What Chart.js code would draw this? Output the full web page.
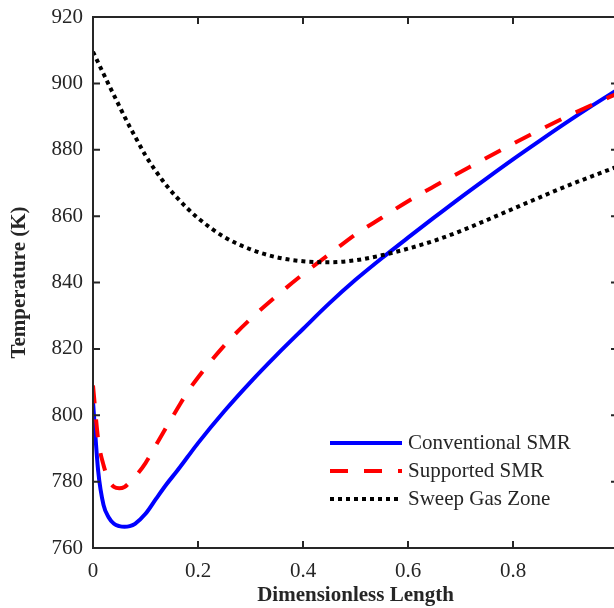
<!DOCTYPE html>
<html><head><meta charset="utf-8">
<script src="https://cdn.jsdelivr.net/npm/chart.js@4/dist/chart.umd.min.js"></script>
<style>
html,body{margin:0;padding:0;background:#fff;overflow:hidden;}
#wrap{width:614px;height:608px;overflow:hidden;position:relative;background:#fff;}
canvas{display:block;}
</style></head><body>
<div id="wrap"><canvas id="c" width="640" height="608" style="width:640px;height:608px"></canvas></div>
<script>
const xValues        = [0, 0.01, 0.02, 0.03, 0.04, 0.05, 0.06, 0.07, 0.08, 0.1, 0.12, 0.14, 0.16, 0.18, 0.2, 0.25, 0.3, 0.35, 0.4, 0.45, 0.5, 0.55, 0.6, 0.65, 0.7, 0.75, 0.8, 0.85, 0.9, 0.95, 1.0];
const conventionalSMR = [804, 783, 773, 769.2, 767.3, 766.6, 766.4, 766.6, 767.3, 770.3, 774.8, 779.2, 783.2, 787.4, 791.6, 801.2, 810, 818.2, 826, 833.7, 840.8, 847.3, 853.5, 859.6, 865.6, 871.4, 877.1, 882.6, 888, 893.2, 898.2];
const supportedSMR    = [809, 792.5, 785, 780.5, 778.4, 778, 778.4, 779.8, 781.4, 785.6, 791, 796.5, 801.8, 807, 811.4, 821, 829, 836, 842.5, 848.5, 854.5, 859.5, 864.5, 869, 873.3, 877.6, 881.8, 885.9, 889.8, 893.5, 897];
const sweepGasZone    = [909.5, 906.2, 902.9, 899.6, 896.4, 893.2, 890, 886.9, 884, 878.3, 873.5, 869.2, 865.6, 862.3, 859.4, 853.7, 850, 847.6, 846.4, 846.1, 846.7, 848.2, 850.2, 852.6, 855.5, 858.8, 862.2, 865.6, 868.9, 872, 875];
const xTicks = [0, 0.2, 0.4, 0.6, 0.8, 1];
const yTicks = [760, 780, 800, 820, 840, 860, 880, 900, 920];
const seriesLabels = ['Conventional SMR', 'Supported SMR', 'Sweep Gas Zone'];
const xTitle = 'Dimensionless Length';
const yTitle = 'Temperature (K)';

const TXT = '#262626';
const FONT = 'Liberation Serif, Times New Roman, serif';

function pts(arr){ return xValues.map((x,i)=>({x:x, y:arr[i]})); }

const styles = [
  {borderColor:'#0000ff', borderWidth:4, borderDash:[], order:3},
  {borderColor:'#ff0000', borderWidth:4, borderDash:[18,16], order:2},
  {borderColor:'#000000', borderWidth:4, borderDash:[4,4], order:1}
];
const seriesData = [conventionalSMR, supportedSMR, sweepGasZone];

const datasets = seriesData.map((d,i)=>({
  label: seriesLabels[i],
  data: pts(d),
  borderColor: styles[i].borderColor,
  borderWidth: styles[i].borderWidth,
  borderDash: styles[i].borderDash,
  borderCapStyle: 'butt',
  pointRadius: 0,
  fill: false,
  cubicInterpolationMode: 'monotone',
  order: styles[i].order
}));

const framePlugin = {
  id: 'frame',
  afterDatasetsDraw(chart){
    const {ctx, chartArea:a, scales:{x, y}} = chart;
    ctx.save();
    ctx.strokeStyle = TXT; ctx.lineWidth = 2; ctx.setLineDash([]);
    ctx.strokeRect(a.left, a.top, a.right - a.left, a.bottom - a.top);
    const L = 7;
    ctx.beginPath();
    xTicks.forEach(v=>{ const p = x.getPixelForValue(v);
      ctx.moveTo(p, a.bottom); ctx.lineTo(p, a.bottom - L);
      ctx.moveTo(p, a.top); ctx.lineTo(p, a.top + L); });
    yTicks.forEach(v=>{ const p = y.getPixelForValue(v);
      ctx.moveTo(a.left, p); ctx.lineTo(a.left + L, p);
      ctx.moveTo(a.right, p); ctx.lineTo(a.right - L, p); });
    ctx.stroke();
    // legend
    const lx0 = 330, lx1 = 402, tx = 408, rows = [443, 471, 499];
    chart.data.datasets.forEach((ds, i)=>{
      const yy = rows[i];
      ctx.beginPath();
      ctx.strokeStyle = ds.borderColor; ctx.lineWidth = ds.borderWidth;
      ctx.lineCap = 'butt';
      ctx.setLineDash(ds.borderDash || []);
      ctx.moveTo(lx0, yy); ctx.lineTo(lx1, yy); ctx.stroke();
      ctx.setLineDash([]);
      ctx.fillStyle = TXT; ctx.font = '21px ' + FONT;
      ctx.textBaseline = 'middle'; ctx.textAlign = 'left';
      ctx.fillText(ds.label, tx, yy);
    });
    ctx.restore();
  }
};

const chart = new Chart(document.getElementById('c'), {
  type: 'line',
  data: { datasets },
  plugins: [framePlugin],
  options: {
    responsive: false,
    animation: false,
    devicePixelRatio: 1,
    layout: { padding: { top: 17, right: 22, left: 0, bottom: 0 } },
    plugins: { legend: { display: false }, tooltip: { enabled: false } },
    scales: {
      x: {
        type: 'linear', min: 0, max: 1,
        afterBuildTicks: s => { s.ticks = xTicks.map(v=>({value:v})); },
        afterFit: s => { s.height = 60; s.paddingLeft = 0; s.paddingRight = 0; },
        grid: { display: false, drawTicks: false },
        border: { display: false },
        ticks: { color: TXT, font: { family: FONT, size: 21 }, padding: 11, maxRotation: 0,
                 callback: v => String(v) },
        title: { display: true, text: xTitle, color: TXT,
                 font: { family: FONT, size: 21, weight: 'bold' }, padding: { top: 0, bottom: 0 } }
      },
      y: {
        type: 'linear', min: 760, max: 920,
        afterBuildTicks: s => { s.ticks = yTicks.map(v=>({value:v})); },
        afterFit: s => { s.width = 93; s.paddingTop = 0; s.paddingBottom = 0; },
        grid: { display: false, drawTicks: false },
        border: { display: false },
        ticks: { color: TXT, font: { family: FONT, size: 21 }, padding: 10 },
        title: { display: true, text: yTitle, color: TXT,
                 font: { family: FONT, size: 21, weight: 'bold' }, padding: { top: 7, bottom: 0 } }
      }
    }
  }
});

// nudge layout so the plotting frame sits where the reference frame is
const target = { left: 93, right: 618, top: 17, bottom: 548 };
for (let k = 0; k < 4; k++) {
  const a = chart.chartArea;
  const p = chart.options.layout.padding;
  const dr = a.right - target.right, dt = target.top - a.top, db = a.bottom - target.bottom;
  if (Math.abs(dr) < 0.5 && Math.abs(dt) < 0.5 && Math.abs(db) < 0.5) break;
  p.right += dr; p.top += dt; p.bottom += db;
  chart.update();
}
</script>
</body></html>
